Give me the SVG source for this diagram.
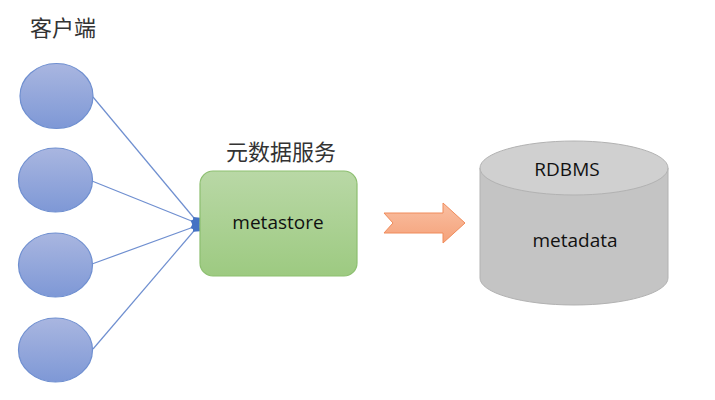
<svg xmlns="http://www.w3.org/2000/svg" width="715" height="400" viewBox="0 0 715 400">
<defs>
<linearGradient id="gBlue" x1="0" y1="0" x2="0" y2="1"><stop offset="0" stop-color="#a9b6e0"/><stop offset="1" stop-color="#7e98d6"/></linearGradient>
<linearGradient id="gGreen" x1="0" y1="0" x2="0" y2="1"><stop offset="0" stop-color="#b9d8a6"/><stop offset="1" stop-color="#9dca81"/></linearGradient>
<linearGradient id="gOrange" x1="0" y1="0" x2="0" y2="1"><stop offset="0" stop-color="#f9bfa2"/><stop offset="1" stop-color="#f5a27a"/></linearGradient>
<marker id="tip" viewBox="0 0 10 10" refX="9" refY="5" markerWidth="10" markerHeight="10" orient="auto" markerUnits="userSpaceOnUse">
<path d="M0,5 L5,0 L10,5 L5,10 Z" fill="#4472c4"/>
</marker>
<style>
.client{fill:url(#gBlue);stroke:#6f8fd0;stroke-width:1.2}
.conn{stroke:#6f8fd0;stroke-width:1.2;fill:none}
.lbl{font-family:"Liberation Sans","Noto Sans CJK SC",sans-serif;font-size:22px;fill:#333}
.txt{font-family:"Open Sans","Noto Sans","Liberation Sans",sans-serif;font-size:19px;fill:#111}
</style>
</defs>
<rect width="715" height="400" fill="#ffffff"/>
<text class="lbl" x="30" y="36">客户端</text>
<g id="client1"><ellipse class="client" cx="56.5" cy="96" rx="36.5" ry="32.5"/></g>
<g id="client2"><ellipse class="client" cx="55.5" cy="180" rx="37" ry="32"/></g>
<g id="client3"><ellipse class="client" cx="55.5" cy="265" rx="37" ry="32"/></g>
<g id="client4"><ellipse class="client" cx="55.5" cy="350" rx="37" ry="32"/></g>
<g id="connectors">
<line class="conn" x1="93" y1="97" x2="199" y2="224" marker-end="url(#tip)"/>
<line class="conn" x1="92" y1="181" x2="199" y2="224" marker-end="url(#tip)"/>
<line class="conn" x1="92" y1="264" x2="199" y2="225" marker-end="url(#tip)"/>
<line class="conn" x1="93" y1="349" x2="199" y2="225" marker-end="url(#tip)"/>
<path d="M384,213 L443,213 L443,203 L465,223 L443,243 L443,233 L384,233 L393,223 Z" fill="url(#gOrange)" stroke="#f08b5a" stroke-width="1"/>
</g>
<g id="metastore">
<text class="lbl" x="281" y="160" text-anchor="middle">元数据服务</text>
<rect x="200" y="171" width="157" height="105" rx="13" fill="url(#gGreen)" stroke="#8dbf70" stroke-width="1.2"/>
<text class="txt" x="278" y="229" text-anchor="middle">metastore</text>
</g>
<g id="rdbms">
<path d="M480,168 L480,278 A94,27 0 0 0 668,278 L668,168 Z" fill="#c4c4c4" stroke="#b2b2b2" stroke-width="1"/>
<ellipse cx="574" cy="168" rx="94" ry="27" fill="#d0d0d0" stroke="#b2b2b2" stroke-width="1"/>
<text class="txt" x="567" y="176" text-anchor="middle">RDBMS</text>
<text class="txt" x="575" y="247" text-anchor="middle">metadata</text>
</g>
</svg>
